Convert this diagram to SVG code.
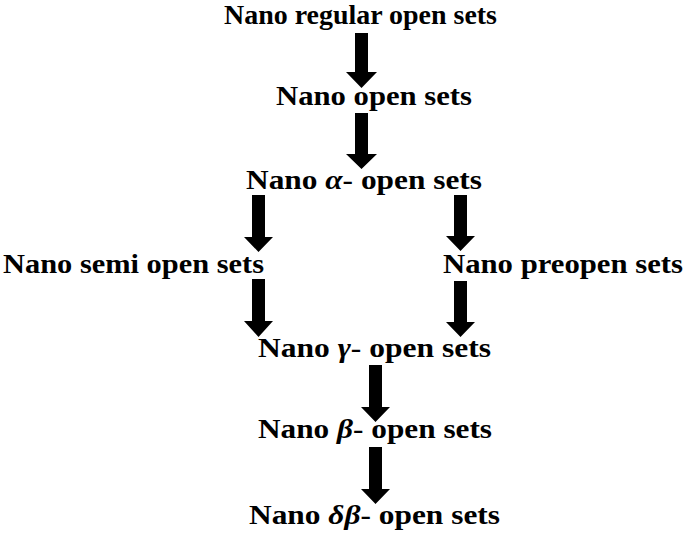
<svg xmlns="http://www.w3.org/2000/svg" width="685" height="535" viewBox="0 0 685 535">
<style>
.t{font-family:"Liberation Serif","Times New Roman",serif;font-weight:bold;font-size:27px;fill:#000}
.g{font-style:italic}
.a{fill:#000;stroke:none}
</style>
<rect width="685" height="535" fill="#fff"/>
<g id="connectors">
<path class="a" d="M355,33 H368 V72 H377 L361.5,88 L346,72 H355 Z"/>
<path class="a" d="M355,113 H368 V154 H377 L361.5,169 L346,154 H355 Z"/>
<path class="a" d="M252,195 H265 V237 H273 L258.5,252 L244,237 H252 Z"/>
<path class="a" d="M454,195 H467 V236 H475 L460.5,251 L446,236 H454 Z"/>
<path class="a" d="M252,279 H265 V321 H273 L258.5,337 L244,321 H252 Z"/>
<path class="a" d="M454,281 H467 V322 H475 L460.5,337 L446,322 H454 Z"/>
<path class="a" d="M369,365 H382 V407 H390 L375.5,422 L361,407 H369 Z"/>
<path class="a" d="M369,447 H382 V489 H390 L375.5,504 L361,489 H369 Z"/>
</g>
<g id="n1"><text class="t" x="224" y="24" font-size="26" textLength="273" lengthAdjust="spacingAndGlyphs">Nano regular open sets</text></g>
<g id="n2"><text class="t" x="276" y="105" textLength="196" lengthAdjust="spacingAndGlyphs">Nano open sets</text></g>
<g id="n3"><text class="t" x="246" y="189" textLength="236" lengthAdjust="spacingAndGlyphs">Nano <tspan class="g">α</tspan>- open sets</text></g>
<g id="n4"><text class="t" x="3" y="273" textLength="261" lengthAdjust="spacingAndGlyphs">Nano semi open sets</text></g>
<g id="n5"><text class="t" x="443" y="273" textLength="240" lengthAdjust="spacingAndGlyphs">Nano preopen sets</text></g>
<g id="n6"><text class="t" x="258" y="357" textLength="233" lengthAdjust="spacingAndGlyphs">Nano <tspan class="g">γ</tspan>- open sets</text></g>
<g id="n7"><text class="t" x="258" y="438" textLength="234" lengthAdjust="spacingAndGlyphs">Nano <tspan class="g">β</tspan>- open sets</text></g>
<g id="n8"><text class="t" x="249" y="524" textLength="251" lengthAdjust="spacingAndGlyphs">Nano <tspan class="g">δβ</tspan>- open sets</text></g>
</svg>
